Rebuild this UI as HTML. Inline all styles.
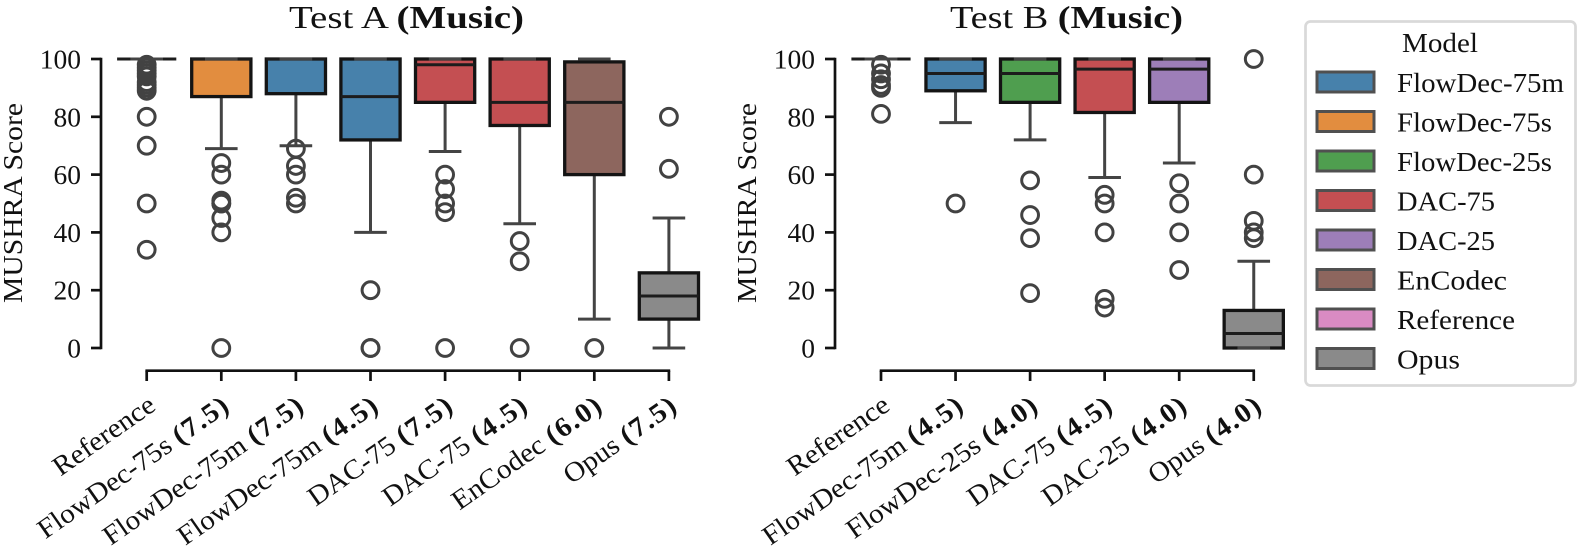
<!DOCTYPE html>
<html>
<head>
<meta charset="utf-8">
<style>
html,body{margin:0;padding:0;background:#fff;width:1578px;height:548px;overflow:hidden}
svg{display:block}
text{font-family:"Liberation Serif",serif;fill:#111}
</style>
</head>
<body>
<svg id="chart" width="1578" height="548" viewBox="0 0 1578 548" xmlns="http://www.w3.org/2000/svg">
  <text x="289" y="28" font-size="32" textLength="235" lengthAdjust="spacingAndGlyphs">Test A <tspan font-weight="bold">(Music)</tspan></text>
  <text x="950" y="28" font-size="32" textLength="233" lengthAdjust="spacingAndGlyphs">Test B <tspan font-weight="bold">(Music)</tspan></text>
  <text transform="translate(22,303) rotate(-90)" font-size="27.5" textLength="200" lengthAdjust="spacingAndGlyphs">MUSHRA Score</text>
  <text transform="translate(756,303) rotate(-90)" font-size="27.5" textLength="200" lengthAdjust="spacingAndGlyphs">MUSHRA Score</text>
  <g id="panelA"></g>
  <g id="panelB"></g>
  <g>
    <rect x="1305.5" y="21.5" width="270" height="364" rx="5" fill="#fff" stroke="#d9d9d9" stroke-width="2.7"/>
    <text x="1402" y="52" font-size="27.5" textLength="76" lengthAdjust="spacingAndGlyphs">Model</text>
    <g stroke="#505050" stroke-width="3">
      <rect x="1317" y="72" width="57" height="20" fill="#4781ab"/>
      <rect x="1317" y="111.5" width="57" height="20" fill="#e28d3f"/>
      <rect x="1317" y="151" width="57" height="20" fill="#4f9e4f"/>
      <rect x="1317" y="190.5" width="57" height="20" fill="#c44f52"/>
      <rect x="1317" y="230" width="57" height="20" fill="#9d7eb8"/>
      <rect x="1317" y="269.5" width="57" height="20" fill="#8d665e"/>
      <rect x="1317" y="309" width="57" height="20" fill="#d98bc3"/>
      <rect x="1317" y="348.5" width="57" height="20" fill="#8a8a8a"/>
    </g>
    <g font-size="27.5">
      <text x="1397" y="92" textLength="167" lengthAdjust="spacingAndGlyphs">FlowDec-75m</text>
      <text x="1397" y="131.5" textLength="155" lengthAdjust="spacingAndGlyphs">FlowDec-75s</text>
      <text x="1397" y="171" textLength="155" lengthAdjust="spacingAndGlyphs">FlowDec-25s</text>
      <text x="1397" y="210.5" textLength="98" lengthAdjust="spacingAndGlyphs">DAC-75</text>
      <text x="1397" y="250" textLength="98" lengthAdjust="spacingAndGlyphs">DAC-25</text>
      <text x="1397" y="289.5" textLength="110" lengthAdjust="spacingAndGlyphs">EnCodec</text>
      <text x="1397" y="329" textLength="118" lengthAdjust="spacingAndGlyphs">Reference</text>
      <text x="1397" y="368.5" textLength="63" lengthAdjust="spacingAndGlyphs">Opus</text>
    </g>
  </g>
</svg>
<script>
const yTicks = [0, 20, 40, 60, 80, 100];

const namesA = ["Reference", "FlowDec-75s", "FlowDec-75m", "FlowDec-75m", "DAC-75", "DAC-75", "EnCodec", "Opus"];
const bitratesA = ["", "(7.5)", "(7.5)", "(4.5)", "(7.5)", "(4.5)", "(6.0)", "(7.5)"];
const modelsA = ["Reference", "FlowDec-75s", "FlowDec-75m", "FlowDec-75m", "DAC-75", "DAC-75", "EnCodec", "Opus"];
const q1A = [100, 87, 88, 72, 85, 77, 60, 10];
const medianA = [100, 100, 100, 87, 98, 85, 85, 18];
const q3A = [100, 100, 100, 100, 100, 100, 99, 26];
const whiskerLowA = [100, 69, 70, 40, 68, 43, 10, 0];
const whiskerHighA = [100, 100, 100, 100, 100, 100, 100, 45];
const fliersA = [
  [34, 50, 70, 80, 89, 90, 91, 92, 94, 95, 96, 97, 98],
  [0, 40, 45, 50, 50, 51, 60, 64],
  [50, 52, 60, 63, 69],
  [0, 0, 20],
  [0, 47, 50, 55, 60],
  [0, 30, 37],
  [0],
  [62, 80]
];

const namesB = ["Reference", "FlowDec-75m", "FlowDec-25s", "DAC-75", "DAC-25", "Opus"];
const bitratesB = ["", "(4.5)", "(4.0)", "(4.5)", "(4.0)", "(4.0)"];
const modelsB = ["Reference", "FlowDec-75m", "FlowDec-25s", "DAC-75", "DAC-25", "Opus"];
const q1B = [100, 89, 85, 81.5, 85, 0];
const medianB = [100, 95, 95, 96.5, 96.5, 5];
const q3B = [100, 100, 100, 100, 100, 13];
const whiskerLowB = [100, 78, 72, 59, 64, 0];
const whiskerHighB = [100, 100, 100, 100, 100, 30];
const fliersB = [
  [81, 90, 91, 93, 95, 98],
  [50],
  [19, 38, 46, 58],
  [14, 17, 40, 50, 53],
  [27, 40, 50, 57],
  [38, 40, 44, 60, 100]
];

const modelColors = {
  "FlowDec-75m": "#4781ab",
  "FlowDec-75s": "#e28d3f",
  "FlowDec-25s": "#4f9e4f",
  "DAC-75": "#c44f52",
  "DAC-25": "#9d7eb8",
  "EnCodec": "#8d665e",
  "Reference": "#d98bc3",
  "Opus": "#8a8a8a"
};

const SVG_NS = "http://www.w3.org/2000/svg";
const yScale = v => 348 - 2.89 * v;

function make(parent, tag, attrs) {
  const el = document.createElementNS(SVG_NS, tag);
  for (const k in attrs) el.setAttribute(k, attrs[k]);
  parent.appendChild(el);
  return el;
}

function drawPanel(panel, d) {
  const xScale = i => d.x0 + d.step * i;
  const last = d.names.length - 1;

  const yAxis = make(panel, "line", {x1: d.axisX, x2: d.axisX, y1: yScale(100) - 1.3, y2: yScale(0) + 1.3, stroke: "#111", "stroke-width": 2.7});
  
  

  yTicks.forEach(t => {
    const tick = make(panel, "line", {x1: d.axisX - 10, x2: d.axisX, y1: yScale(t), y2: yScale(t), stroke: "#111", "stroke-width": 2.7});
    
    
    const label = make(panel, "text", {x: d.axisX - 20, y: yScale(t) + 9.5, "font-size": 27.5, "text-anchor": "end"});
    label.textContent = t;
    
    
  });

  const xAxis = make(panel, "line", {x1: xScale(0) - 1.3, x2: xScale(last) + 1.3, y1: 370.7, y2: 370.7, stroke: "#111", "stroke-width": 2.7});
  
  

  d.names.forEach((name, i) => {
    const x = xScale(i);
    const tick = make(panel, "line", {x1: x, x2: x, y1: 370.7, y2: 381, stroke: "#111", "stroke-width": 2.7});
    
    

    const label = make(panel, "text", {"font-size": 27.5, "text-anchor": "end", transform: "translate(" + (x + 10.5) + ",409) rotate(-35) scale(1.06,1)"});
    
    
    label.appendChild(document.createTextNode(name + (d.bitrates[i] ? " " : "")));
    if (d.bitrates[i]) {
      const bold = make(label, "tspan", {"font-weight": "bold", "letter-spacing": "1.4"});
      bold.textContent = d.bitrates[i];
    }

    d.fliers[i].forEach(v => {
      const flier = make(panel, "circle", {cx: x, cy: yScale(v), r: 8.4, fill: "none", stroke: "#424242", "stroke-width": 3});
      
      
    });

    const grey = "#444";
    const lowLine = make(panel, "line", {x1: x, x2: x, y1: yScale(d.q1[i]), y2: yScale(d.low[i]), stroke: grey, "stroke-width": 3});
    
    
    const highLine = make(panel, "line", {x1: x, x2: x, y1: yScale(d.q3[i]), y2: yScale(d.high[i]), stroke: grey, "stroke-width": 3});
    
    

    const box = make(panel, "rect", {
      x: x - 29.6, y: yScale(d.q3[i]), width: 59.2,
      height: yScale(d.q1[i]) - yScale(d.q3[i]),
      fill: modelColors[d.models[i]], stroke: "#141414", "stroke-width": 3.3
    });
    
    

    const median = make(panel, "line", {x1: x - 29.6, x2: x + 29.6, y1: yScale(d.median[i]), y2: yScale(d.median[i]), stroke: "#1c1c1c", "stroke-width": 3});
    
    

    const capLow = make(panel, "line", {x1: x - 16.3, x2: x + 16.3, y1: yScale(d.low[i]), y2: yScale(d.low[i]), stroke: grey, "stroke-width": 3});
    
    
    const capHigh = make(panel, "line", {x1: x - 16.3, x2: x + 16.3, y1: yScale(d.high[i]), y2: yScale(d.high[i]), stroke: grey, "stroke-width": 3});
    
    
  });
}

drawPanel(document.getElementById("panelA"), {
  x0: 146.7, step: 74.6, axisX: 101,
  names: namesA, bitrates: bitratesA, models: modelsA,
  q1: q1A, median: medianA, q3: q3A, low: whiskerLowA, high: whiskerHighA, fliers: fliersA
});
drawPanel(document.getElementById("panelB"), {
  x0: 881, step: 74.55, axisX: 835,
  names: namesB, bitrates: bitratesB, models: modelsB,
  q1: q1B, median: medianB, q3: q3B, low: whiskerLowB, high: whiskerHighB, fliers: fliersB
});
</script>
</body>
</html>
